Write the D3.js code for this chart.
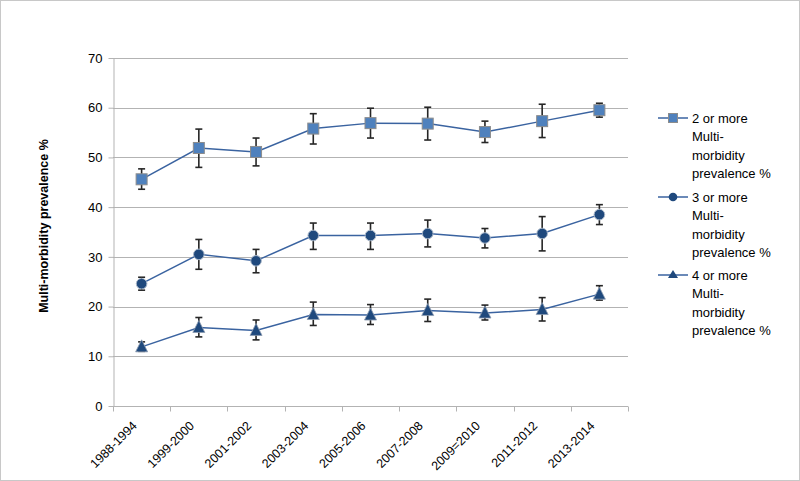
<!DOCTYPE html>
<html>
<head>
<meta charset="utf-8">
<script src="https://cdn.jsdelivr.net/npm/d3@7"></script>
<style>
  html, body { margin: 0; padding: 0; background: #fff; }
  svg { display: block; }
  text { font-family: "Liberation Sans", Arial, sans-serif; fill: #000; }
</style>
</head>
<body>
<svg id="chart" width="800" height="481"></svg>
<script>
// ---- data ----
const categories = ["1988-1994", "1999-2000", "2001-2002", "2003-2004", "2005-2006", "2007-2008", "2009=2010", "2011-2012", "2013-2014"];
const yTicks = [0, 10, 20, 30, 40, 50, 60, 70];

const seriesNames = [
  "2 or more Multi-morbidity prevalence %",
  "3 or more Multi-morbidity prevalence %",
  "4 or more Multi-morbidity prevalence %"
];
const values2 = [45.6, 51.9, 51.1, 55.8, 56.9, 56.8, 55.1, 57.3, 59.5];
const upper2  = [47.7, 55.7, 53.9, 58.8, 59.9, 60.1, 57.3, 60.7, 60.9];
const lower2  = [43.6, 48.0, 48.3, 52.7, 53.9, 53.5, 53.0, 54.0, 58.1];

const values3 = [24.6, 30.5, 29.2, 34.3, 34.3, 34.7, 33.8, 34.7, 38.5];
const upper3  = [25.9, 33.5, 31.5, 36.8, 36.8, 37.4, 35.7, 38.1, 40.5];
const lower3  = [23.3, 27.5, 26.8, 31.5, 31.5, 32.0, 31.8, 31.2, 36.5];

const values4 = [11.9, 15.8, 15.2, 18.4, 18.3, 19.2, 18.7, 19.4, 22.5];
const upper4  = [12.9, 17.8, 17.3, 20.9, 20.4, 21.5, 20.3, 21.8, 24.2];
const lower4  = [11.0, 13.9, 13.3, 16.2, 16.4, 17.0, 17.3, 17.1, 21.3];

const series = [
  { name: seriesNames[0], values: values2, upper: upper2, lower: lower2, shape: "square" },
  { name: seriesNames[1], values: values3, upper: upper3, lower: lower3, shape: "circle" },
  { name: seriesNames[2], values: values4, upper: upper4, lower: lower4, shape: "triangle" }
];

(function () {
// ---- layout ----
const svg = d3.select("#chart");
const pLeft = 113, pRight = 628, pTop = 58, pBottom = 406;
const lineColor = "#3A63A0";
const gridColor = "#B3B3B3";

// outer border
svg.append("rect").attr("x", 0.5).attr("y", 0.5).attr("width", 799).attr("height", 480)
  .attr("fill", "#fff").attr("stroke", "#C8C8C8");

const x = d3.scaleBand().domain(categories).range([pLeft, pRight]).padding(0);
const y = d3.scaleLinear().domain([0, 70]).range([pBottom, pTop]);
const cx = c => x(c) + x.bandwidth() / 2;

// gridlines
svg.append("g").selectAll("line").data(yTicks.filter(d => d > 0)).join("line")
  .attr("x1", pLeft).attr("x2", pRight)
  .attr("y1", d => Math.round(y(d)) + 0.5).attr("y2", d => Math.round(y(d)) + 0.5)
  .attr("stroke", gridColor).attr("stroke-width", 1);

// y axis
const yAxis = svg.append("g").attr("transform", `translate(${pLeft + 0.5},0)`)
  .call(d3.axisLeft(y).tickValues(yTicks).tickSize(5).tickPadding(6).tickSizeOuter(0));
yAxis.select(".domain").attr("stroke", gridColor);
yAxis.selectAll(".tick line").attr("stroke", gridColor);
yAxis.selectAll(".tick text").style("font-size", "13px").attr("fill", "#000")
  .style("font-family", "'Liberation Sans', Arial, sans-serif");

// x axis
const xAxis = svg.append("g").attr("transform", `translate(0,${Math.round(pBottom) + 0.5})`)
  .call(d3.axisBottom(x).tickSize(0).tickSizeOuter(0));
xAxis.select(".domain").attr("stroke", gridColor).attr("d", `M${pLeft},0H${pRight}`);
xAxis.selectAll(".tick text")
  .style("font-size", "12.5px").attr("fill", "#000")
  .style("font-family", "'Liberation Sans', Arial, sans-serif")
  .attr("text-anchor", "end")
  .attr("dy", "0")
  .attr("y", 0)
  .attr("transform", "translate(-4,20) rotate(-45)");
// x tick marks at category boundaries
const boundaries = categories.map(c => x(c)).concat([x(categories[categories.length - 1]) + x.bandwidth()]);
xAxis.append("g").selectAll("line").data(boundaries).join("line")
  .attr("x1", d => Math.round(d) + 0.5).attr("x2", d => Math.round(d) + 0.5)
  .attr("y1", 0).attr("y2", 5).attr("stroke", gridColor);

// y title
svg.append("text")
  .attr("transform", `translate(48,226) rotate(-90)`)
  .attr("text-anchor", "middle")
  .style("font-size", "12.5px").style("font-weight", "bold")
  .text("Multi-morbidity prevalence %");

// marker drawer
function drawMarker(g, shape, px, py) {
  if (shape === "square") {
    g.append("rect").attr("x", px - 5.5).attr("y", py - 5.5).attr("width", 11).attr("height", 11)
      .attr("fill", "#4F81BD").attr("stroke", "#8C8C8C").attr("stroke-width", 1);
  } else if (shape === "circle") {
    g.append("circle").attr("cx", px).attr("cy", py).attr("r", 5.3)
      .attr("fill", "#1F497D").attr("stroke", "#A9B7C9").attr("stroke-width", 1);
  } else {
    const s = 6;
    g.append("path").attr("d", `M${px},${py - s - 1}L${px + s},${py + s - 1}L${px - s},${py + s - 1}Z`)
      .attr("fill", "#1F497D").attr("stroke", "#8C9BB0").attr("stroke-width", 0.8);
  }
}

// series
const line = d3.line().x(d => cx(d.c)).y(d => y(d.v));
series.forEach(s => {
  const pts = categories.map((c, i) => ({ c, v: s.values[i], hi: s.upper[i], lo: s.lower[i] }));
  const g = svg.append("g");
  g.append("path").datum(pts).attr("d", line).attr("fill", "none")
    .attr("stroke", lineColor).attr("stroke-width", 1.5);
  // error bars
  const eb = g.append("g").attr("stroke", "#262626").attr("stroke-width", 1.6);
  pts.forEach(p => {
    const px = cx(p.c);
    eb.append("line").attr("x1", px).attr("x2", px).attr("y1", y(p.hi)).attr("y2", y(p.lo));
    eb.append("line").attr("x1", px - 3.5).attr("x2", px + 3.5).attr("y1", y(p.hi)).attr("y2", y(p.hi));
    eb.append("line").attr("x1", px - 3.5).attr("x2", px + 3.5).attr("y1", y(p.lo)).attr("y2", y(p.lo));
  });
  const mg = g.append("g");
  pts.forEach(p => drawMarker(mg, s.shape, cx(p.c), y(p.v)));
});

// legend
const legendY = [118, 197, 275];
const legendLines = [
  ["2 or more", "Multi-", "morbidity", "prevalence %"],
  ["3 or more", "Multi-", "morbidity", "prevalence %"],
  ["4 or more", "Multi-", "morbidity", "prevalence %"]
];
series.forEach((s, i) => {
  const g = svg.append("g");
  const ly = legendY[i];
  g.append("line").attr("x1", 658).attr("x2", 688).attr("y1", ly).attr("y2", ly)
    .attr("stroke", lineColor).attr("stroke-width", 1.5);
  if (s.shape === "square") {
    g.append("rect").attr("x", 673 - 4.5).attr("y", ly - 4.5).attr("width", 9).attr("height", 9)
      .attr("fill", "#4F81BD").attr("stroke", "#8C8C8C");
  } else if (s.shape === "circle") {
    g.append("circle").attr("cx", 673).attr("cy", ly).attr("r", 4.3).attr("fill", "#1F497D");
  } else {
    g.append("path").attr("d", `M673,${ly - 5}L678,${ly + 3}L668,${ly + 3}Z`).attr("fill", "#1F497D");
  }
  const t = g.append("text").attr("x", 692).attr("y", ly + 5).style("font-size", "13px");
  legendLines[i].forEach((ln, k) => {
    t.append("tspan").attr("x", 692).attr("dy", k === 0 ? 0 : 18.3).text(ln);
  });
});
})();
</script>
</body>
</html>
